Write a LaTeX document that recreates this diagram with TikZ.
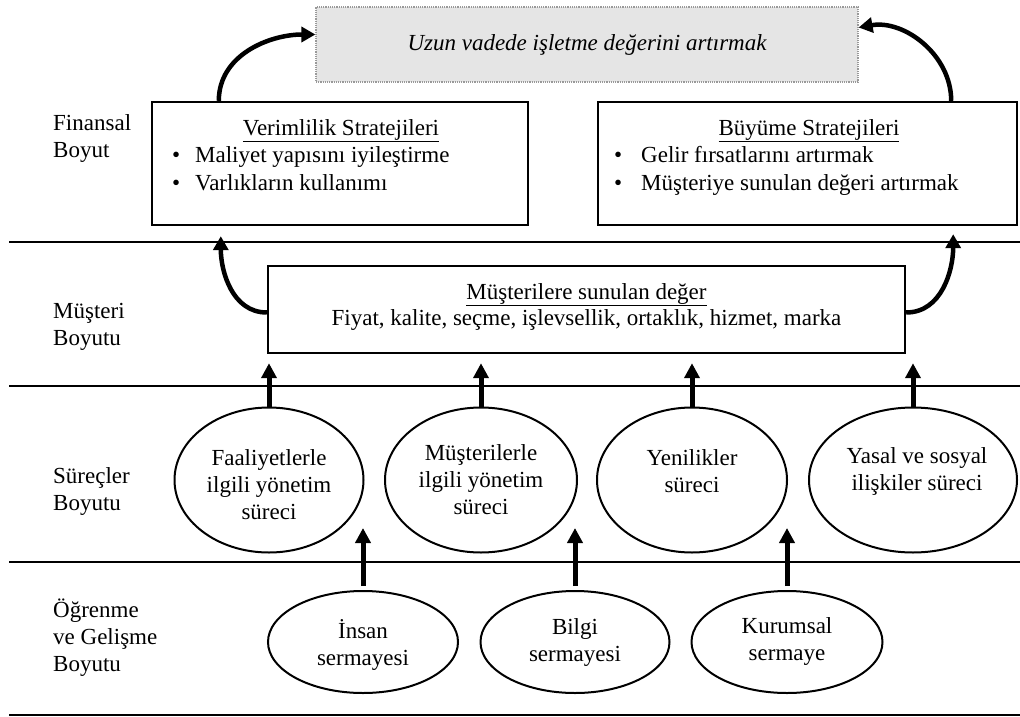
\documentclass[tikz,border=0pt]{standalone}
\usepackage{fontspec}
\setmainfont{Liberation Serif}
\usetikzlibrary{arrows.meta,shapes.geometric}
\begin{document}
\begin{tikzpicture}[x=1pt,y=-1pt,
  every node/.style={font=\fontsize{23}{27}\selectfont, inner sep=0pt},
  sep/.style={line width=2.2pt},
  box/.style={draw, line width=2.4pt, rectangle},
  goal/.style={draw=gray!80, densely dotted, line width=1.2pt, fill=black!10},
  ell/.style={draw, ellipse, line width=2pt},
  arr/.style={line width=5pt, -{Triangle[width=15pt,length=15pt]}},
  carr/.style={line width=4.5pt, -{Triangle[width=15pt,length=14pt]}},
  lbl/.style={align=left, anchor=west},
  txt/.style={align=center}
]
\useasboundingbox (0,0) rectangle (1020,717);

% separator lines
\draw[sep] (9,242) -- (1020,242);
\draw[sep] (9,386) -- (1020,386);
\draw[sep] (9,562) -- (1020,562);
\draw[sep] (9,715) -- (1020,715);

% side labels
\node[lbl] (l1) at (53,138.5) {Finansal\\Boyut};
\node[lbl] (l2) at (53,326.5) {Müşteri\\Boyutu};
\node[lbl] (l3) at (53,491.5) {Süreçler\\Boyutu};
\node[lbl] (l4) at (53,637.5) {Öğrenme\\ve Gelişme\\Boyutu};

% goal
\node[goal, minimum width=542pt, minimum height=75pt] (goal) at (587,44.5) {\itshape Uzun vadede işletme değerini artırmak};

% financial boxes
\node[box, minimum width=376pt, minimum height=123pt] (lb) at (340,163.5) {};
\node[anchor=base] (lbt) at (341,135) {\underline{Verimlilik Stratejileri}};
\node[anchor=base west] (lb1) at (172,162) {\makebox[23pt][l]{\textbullet}Maliyet yapısını iyileştirme};
\node[anchor=base west] (lb2) at (172,190) {\makebox[23pt][l]{\textbullet}Varlıkların kullanımı};

\node[box, minimum width=419pt, minimum height=123pt] (rb) at (807.5,163.5) {};
\node[anchor=base] (rbt) at (809,135) {\underline{Büyüme Stratejileri}};
\node[anchor=base west] (rb1) at (614,162) {\makebox[27pt][l]{\textbullet}Gelir fırsatlarını artırmak};
\node[anchor=base west] (rb2) at (614,190) {\makebox[27pt][l]{\textbullet}Müşteriye sunulan değeri artırmak};

% customer box
\node[box, minimum width=637pt, minimum height=87pt] (mb) at (586.5,309.5) {};
\node[anchor=base] (mbt) at (586.5,299) {\underline{Müşterilere sunulan değer}};
\node[anchor=base] (mb1) at (586.5,325) {Fiyat, kalite, seçme, işlevsellik, ortaklık, hizmet, marka};

% process ellipses
\node[ell, minimum width=189pt, minimum height=145pt] (p1) at (269,480) {};
\node[ell, minimum width=192pt, minimum height=145pt] (p2) at (481,480) {};
\node[ell, minimum width=190pt, minimum height=145pt] (p3) at (692,480) {};
\node[ell, minimum width=208pt, minimum height=145pt] (p4) at (913,480) {};
\node[txt] (p1t) at (269,485) {Faaliyetlerle\\ilgili yönetim\\süreci};
\node[txt] (p2t) at (481,479.5) {Müşterilerle\\ilgili yönetim\\süreci};
\node[txt] (p3t) at (692,471) {Yenilikler\\süreci};
\node[txt] (p4t) at (917,471) {Yasal ve sosyal\\ilişkiler süreci};

% learning ellipses
\node[ell, minimum width=190pt, minimum height=102pt] (h1) at (363,642) {};
\node[ell, minimum width=189pt, minimum height=102pt] (h2) at (575,642) {};
\node[ell, minimum width=191pt, minimum height=102pt] (h3) at (787,642) {};
\node[txt] (h1t) at (363,644.5) {İnsan\\sermayesi};
\node[txt] (h2t) at (575,642.5) {Bilgi\\sermayesi};
\node[txt] (h3t) at (787,641.5) {Kurumsal\\sermaye};

% arrows processes -> customer box
\foreach \p in {p1,p2,p3,p4}{
  \draw[arr, shorten >=9pt] (\p.north) -- (\p.north |- mb.south);
}

% arrows learning -> processes
\coordinate (t1) at (363,528);
\coordinate (t2) at (575,528);
\coordinate (t3) at (787,528);
\draw[arr] ([yshift=4pt]h1.north) -- (t1);
\draw[arr] ([yshift=4pt]h2.north) -- (t2);
\draw[arr] ([yshift=4pt]h3.north) -- (t3);

% curved arrows
\draw[carr] ([xshift=68pt]lb.north west) to[out=90,in=180] ([yshift=10pt]goal.west);
\draw[carr] ([xshift=-67pt]rb.north east) to[out=90,in=10] ([yshift=17pt]goal.east);
\draw[carr] ([yshift=-3pt]mb.west) to[out=180,in=-90] ([xshift=70pt,yshift=-10pt]lb.south west);
\draw[carr] ([yshift=-3pt]mb.east) to[out=0,in=-90] ([xshift=-65pt,yshift=-8pt]rb.south east);
\end{tikzpicture}
\end{document}
